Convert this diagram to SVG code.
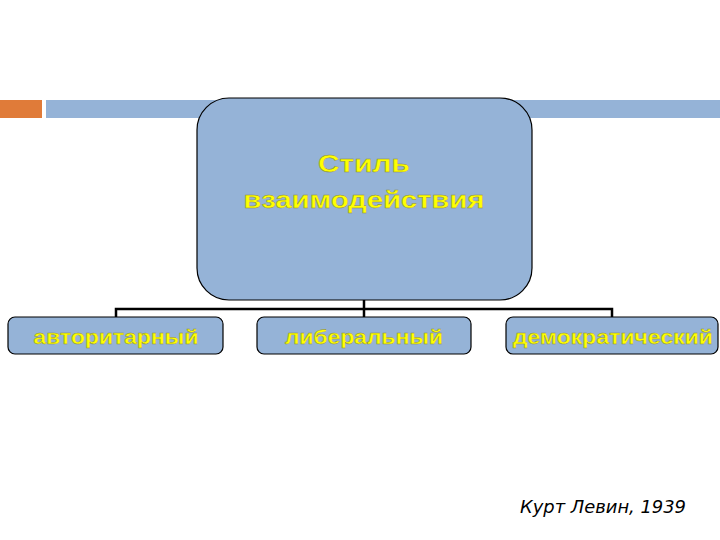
<svg xmlns="http://www.w3.org/2000/svg" width="720" height="540" viewBox="0 0 720 540">
<defs>
<style>
.box{fill:#95b3d7;stroke:#000;stroke-width:1.2}
.lbl{font-family:"Liberation Sans",Arial,sans-serif;font-weight:bold;fill:#ffff00;text-anchor:middle;stroke:#8a8a40;stroke-width:0.4}
.conn{fill:none;stroke:#000;stroke-width:2.5}
</style>
</defs>
<rect width="720" height="540" fill="#fff"/>
<rect x="0" y="100" width="42" height="18" fill="#e07b39"/>
<rect x="46" y="100" width="674" height="18" fill="#95b3d7"/>
<g id="connectors">
<path class="conn" d="M364 300 V309 M116 318 V309 H612 V318 M364 309 V318"/>
</g>
<g id="root">
<rect class="box" x="197" y="98" width="335" height="202" rx="32"/>
<text class="lbl" x="364" y="172" font-size="24" textLength="92" lengthAdjust="spacingAndGlyphs">Стиль</text>
<text class="lbl" x="364" y="208" font-size="24" textLength="241" lengthAdjust="spacingAndGlyphs">взаимодействия</text>
</g>
<g id="n1">
<rect class="box" x="8" y="317" width="215" height="37" rx="7"/>
<text class="lbl" x="116" y="344" font-size="21" textLength="165" lengthAdjust="spacingAndGlyphs">авторитарный</text>
</g>
<g id="n2">
<rect class="box" x="257" y="317" width="214" height="37" rx="7"/>
<text class="lbl" x="364" y="344" font-size="21" textLength="158" lengthAdjust="spacingAndGlyphs">либеральный</text>
</g>
<g id="n3">
<rect class="box" x="506" y="317" width="212" height="37" rx="7"/>
<text class="lbl" x="613" y="344" font-size="21" textLength="200" lengthAdjust="spacingAndGlyphs">демократический</text>
</g>
<text x="603" y="513" font-family="'DejaVu Sans',Verdana,sans-serif" font-style="italic" font-size="17" fill="#000" text-anchor="middle" textLength="166" lengthAdjust="spacingAndGlyphs">Курт Левин, 1939</text>
</svg>
